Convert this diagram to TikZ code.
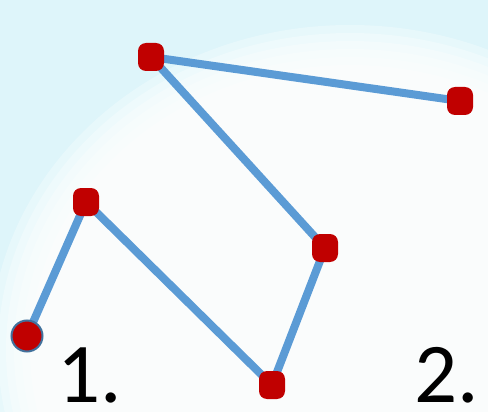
\documentclass[tikz,border=0pt]{standalone}
\usepackage{fontspec}
\setmainfont{Carlito}
\definecolor{LinkBlue}{RGB}{91,155,213}
\definecolor{DotRed}{RGB}{192,0,0}
\definecolor{RimBlue}{RGB}{65,113,156}
\definecolor{BgCyan}{RGB}{222,245,250}
\begin{document}
\begin{tikzpicture}[x=1pt, y=-1pt,
    vertex/.style={fill=DotRed, rounded corners=8pt, minimum width=26pt, minimum height=28pt, inner sep=0pt},
    startpt/.style={circle, fill=DotRed, draw=RimBlue, line width=2pt, minimum size=31pt, inner sep=0pt},
    link/.style={line width=8pt, color=LinkBlue},
    lbl/.style={anchor=base, font=\fontsize{85}{85}\selectfont, text=black, inner sep=0pt},
]
\useasboundingbox (0,0) rectangle (488,412);
% backdrop
\fill[BgCyan] (0,0) rectangle (488,412);
\foreach \r in {0,8,...,40}
  \fill[white, opacity=0.3] (350,350) ellipse [x radius=360-\r, y radius=325-\r];

\coordinate (s0) at (27,336);
\coordinate (c1) at (86,202);
\coordinate (c2) at (272,385);
\coordinate (c3) at (325,248);
\coordinate (c4) at (151,57);
\coordinate (c5) at (460,101);

% connectors under the dots
\draw[link] (s0) -- (c1) -- (c2) -- (c3) -- (c4) -- (c5);

\node[startpt] (start) at (s0) {};
\node[vertex] (n1) at (c1) {};
\node[vertex] (n2) at (c2) {};
\node[vertex] (n3) at (c3) {};
\node[vertex] (n4) at (c4) {};
\node[vertex] (n5) at (c5) {};

\node[lbl] (one) at (90,402) {1.};
\node[lbl] (two) at (447,402) {2.};
\end{tikzpicture}
\end{document}
